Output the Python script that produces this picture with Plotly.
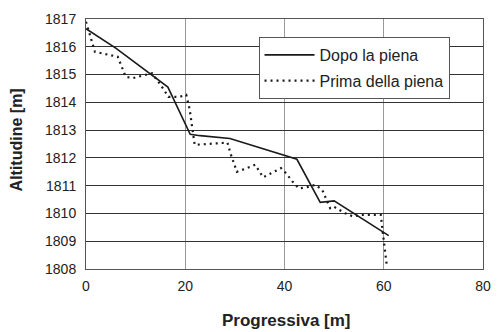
import plotly.graph_objects as go

# Dopo la piena (after flood)
dopo_x = [0, 6, 16.5, 21, 23, 29, 42.5, 47.2, 50, 61]
dopo_y = [1816.65, 1815.95, 1814.55, 1812.85, 1812.8, 1812.7, 1811.95, 1810.4, 1810.45, 1809.2]

# Prima della piena (before flood)
prima_x = [0, 1.1, 1.8, 6.4, 8.0, 9.4, 13.3, 15.3, 16.6, 18.9, 20.2, 20.9, 21.3, 21.9, 24.5,
           28.5, 29.1, 30.4, 32.4, 34.1, 35.7, 37.7, 39.3, 40.3, 41.6, 42.9, 44.6, 46.2, 47.6,
           49.2, 49.9, 52.2, 53.8, 55.5, 57.5, 59.4, 59.9, 60.4, 60.6]
prima_y = [1816.9, 1816.18, 1815.82, 1815.64, 1814.92, 1814.87, 1815.05, 1814.56, 1814.2, 1814.2,
           1814.27, 1813.73, 1813.2, 1812.47, 1812.5, 1812.55, 1812.17, 1811.5, 1811.63, 1811.75,
           1811.3, 1811.47, 1811.63, 1811.45, 1811.15, 1810.9, 1810.95, 1811.03, 1810.85,
           1810.19, 1810.25, 1810.01, 1809.89, 1809.95, 1809.95, 1809.95, 1809.17, 1808.45, 1808.15]

x_ticks = [0, 20, 40, 60, 80]
y_ticks = list(range(1808, 1818))

font_family = "Liberation Sans, Arial, sans-serif"

fig = go.Figure()
fig.add_trace(go.Scatter(x=dopo_x, y=dopo_y, mode="lines", name="Dopo la piena",
                         legendgroup="a",
                         line=dict(color="#1a1a1a", width=1.6)))
fig.add_trace(go.Scatter(x=prima_x, y=prima_y, mode="lines", name="Prima della piena",
                         legendgroup="b",
                         line=dict(color="#1a1a1a", width=2.2, dash="2px,4px")))

plot_l, plot_r, plot_t, plot_b = 86, 491, 19, 269
pw, ph = plot_r - plot_l, plot_b - plot_t

fig.update_layout(
    width=500, height=332,
    margin=dict(l=plot_l, r=500 - plot_r, t=plot_t, b=332 - plot_b),
    paper_bgcolor="white", plot_bgcolor="white",
    font=dict(family=font_family, size=14, color="#222"),
    showlegend=True,
    legend=dict(x=(262 - plot_l) / pw, y=(plot_b - 37) / ph, xanchor="left", yanchor="top",
                bgcolor="white", bordercolor="#555", borderwidth=1,
                font=dict(size=16, color="#222"), tracegroupgap=2,
                itemwidth=50),
    xaxis=dict(range=[0, 80], tickvals=x_ticks, showgrid=True, gridcolor="#999",
               gridwidth=1, zeroline=False, showline=True, linecolor="#555",
               linewidth=1, mirror=True, ticks="", tickfont=dict(size=14, color="#222"),
               ticklabelstandoff=4),
    yaxis=dict(range=[1808, 1817], tickvals=y_ticks, showgrid=True, gridcolor="#333",
               gridwidth=1.3, zeroline=False, showline=True, linecolor="#555",
               linewidth=1, mirror=True, ticks="", tickfont=dict(size=14, color="#222"),
               ticklabelstandoff=6),
    annotations=[
        dict(text="<b>Progressiva [m]</b>", x=(291 - plot_l) / pw, y=(plot_b - 320) / ph,
             xref="paper", yref="paper", xanchor="center", yanchor="middle",
             showarrow=False, font=dict(size=17, color="#222")),
        dict(text="<b>Altitudine [m]</b>", x=(15 - plot_l) / pw, y=(plot_b - 140) / ph,
             xref="paper", yref="paper", xanchor="center", yanchor="middle",
             textangle=-90, showarrow=False, font=dict(size=16, color="#222")),
    ],
)

fig.write_html("out.html")
